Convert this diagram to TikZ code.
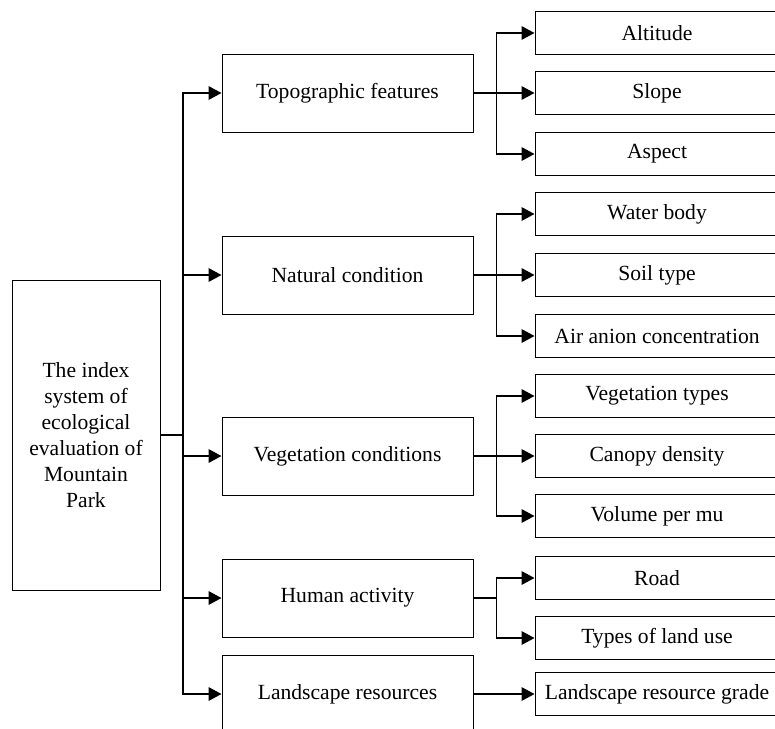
\documentclass[tikz,border=0pt]{standalone}
\usepackage{fontspec}
\setmainfont{Liberation Serif}
\usetikzlibrary{arrows.meta}

\begin{document}
\begin{tikzpicture}[x=0.5pt,y=-0.5pt,font=\fontsize{10.8}{13}\selectfont,>={Triangle[length=6.5pt,width=6.8pt]},
  nd/.style={draw,line width=0.5pt,inner sep=0pt,align=center,minimum width=125.5pt,minimum height=39pt},
  sub/.style={nd,minimum width=122pt,minimum height=21.5pt},
  ln/.style={line width=0.8pt}]
  \useasboundingbox (0,0) rectangle (775,728);
  \node[nd,minimum width=74pt,minimum height=155pt] (root) at (86,435) {The index\\system of\\ecological\\evaluation of\\Mountain\\Park};
  \node[nd] (topo) at (347.5,93) {Topographic features};
  \node[nd] (nat) at (347.5,275) {Natural condition};
  \node[nd] (veg) at (347.5,456) {Vegetation conditions};
  \node[nd] (hum) at (347.5,598) {Human activity};
  \node[nd] (land) at (347.5,694) {Landscape resources};
  \node[sub] (alt) at (657,33) {Altitude};
  \node[sub] (slo) at (657,93) {Slope};
  \node[sub] (asp) at (657,154) {Aspect};
  \node[sub] (wat) at (657,214) {Water body};
  \node[sub] (soil) at (657,275) {Soil type};
  \node[sub] (air) at (657,336) {Air anion concentration};
  \node[sub] (vt) at (657,396) {Vegetation types};
  \node[sub] (can) at (657,456) {Canopy density};
  \node[sub] (vol) at (657,516) {Volume per mu};
  \node[sub] (road) at (657,578) {Road};
  \node[sub] (use) at (657,638) {Types of land use};
  \node[sub] (grd) at (657,694) {Landscape resource grade};
  \coordinate (sp) at (183,435);
  \draw[ln] (root.east) -- (sp);
  \foreach \n in {topo,nat,veg,hum,land}
    \draw[ln,->] (sp) |- (\n.west);
  \foreach \p/\c in {topo/alt,topo/slo,topo/asp,nat/wat,nat/soil,nat/air,veg/vt,veg/can,veg/vol,hum/road,hum/use,land/grd}
    \draw[ln,->] (\p.east) -- ++(23,0) |- (\c.west);
\end{tikzpicture}
\end{document}
